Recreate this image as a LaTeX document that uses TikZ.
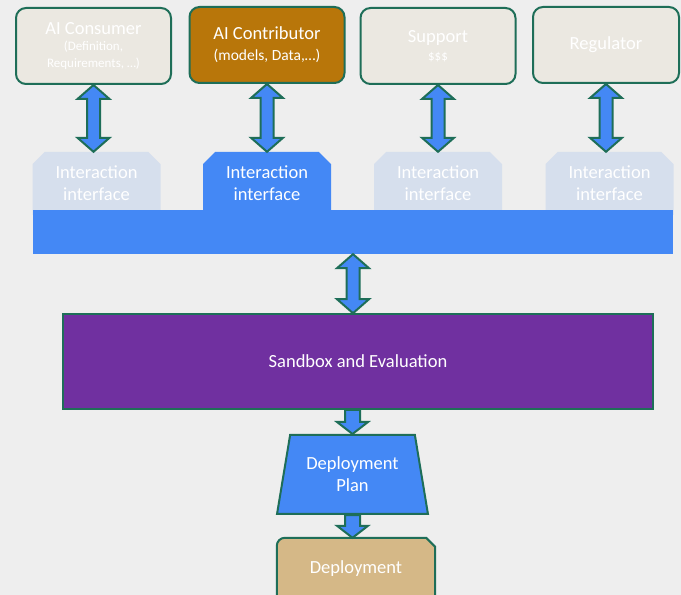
\documentclass[tikz,border=0pt]{standalone}
\usepackage{fontspec}
\setmainfont{Carlito}
\usetikzlibrary{shapes.geometric, shapes.misc, calc, backgrounds}
\definecolor{bggray}{RGB}{238,238,238}
\definecolor{edgegreen}{RGB}{30,110,88}
\definecolor{ifblue}{RGB}{68,136,245}
\definecolor{iflight}{RGB}{214,223,237}
\definecolor{actorbeige}{RGB}{235,232,225}
\definecolor{ochre}{RGB}{184,118,10}
\definecolor{sandpurple}{RGB}{112,48,160}
\definecolor{deptan}{RGB}{213,184,135}

% fat double arrow, tips at #1 (top) and #2 (bottom)
\newcommand{\dblarrow}[2]{%
  \draw[arrowline] let \p1=(#1), \p2=(#2) in
    (\x1,\y1) -- (\x1+16pt,\y1-14pt) -- (\x1+6.5pt,\y1-14pt) -- (\x1+6.5pt,\y2+14pt)
    -- (\x1+16pt,\y2+14pt) -- (\x1,\y2) -- (\x1-16pt,\y2+14pt) -- (\x1-6.5pt,\y2+14pt)
    -- (\x1-6.5pt,\y1-14pt) -- (\x1-16pt,\y1-14pt) -- cycle;}
% fat single arrow pointing down
\newcommand{\fatdown}[2]{%
  \draw[arrowline] let \p1=(#1), \p2=(#2) in
    (\x1-7.5pt,\y1) -- (\x1+7.5pt,\y1) -- (\x1+7.5pt,\y2+12pt) -- (\x1+15.5pt,\y2+12pt)
    -- (\x1,\y2) -- (\x1-15.5pt,\y2+12pt) -- (\x1-7.5pt,\y2+12pt) -- cycle;}

\begin{document}
\begin{tikzpicture}[x=1pt, y=1pt,
  actor/.style={rectangle, rounded corners=10pt, draw=edgegreen, line width=2pt, fill=actorbeige,
    text=white, minimum width=155pt, minimum height=76pt, align=center, font=\fontsize{18.5}{21}\selectfont},
  tabbox/.style={chamfered rectangle, chamfered rectangle corners={north west, north east},
    chamfered rectangle xsep=9pt, text=white, minimum width=128pt, minimum height=63pt,
    align=center, font=\fontsize{18.5}{22}\selectfont},
  arrowline/.style={draw=edgegreen, line width=2pt, fill=ifblue, line join=miter},
  bigfont/.style={font=\fontsize{18.5}{22}\selectfont}]
  \useasboundingbox (0,0) rectangle (681,595);
  \begin{scope}[on background layer]
    \fill[bggray] (0,0) rectangle (681,595);
  \end{scope}

  % stakeholders
  \node[actor] (cons) at (93.5,549) {AI Consumer\\[-5pt]
    {\fontsize{13}{15}\selectfont (Definition,}\\[-4pt]{\fontsize{13}{15}\selectfont Requirements, …)}};
  \node[actor, fill=ochre] (contrib) at (267,550) {AI Contributor\\[0pt]{\fontsize{15.5}{18}\selectfont (models, Data,…)}};
  \node[actor] (supp) at (438,549) {Support\\[-3pt]{\fontsize{13}{15}\selectfont \$\$\$}};
  \node[actor, minimum width=146pt] (reg) at (606,550) {Regulator};

  % interaction interfaces and bus
  \foreach \i/\x/\c in {1/96.5/iflight, 2/267/ifblue, 3/438/iflight, 4/609.5/iflight}
    \node[tabbox, fill=\c] (tab\i) at (\x,411.5) {Interaction\\interface};
  \node[fill=ifblue, minimum width=640pt, minimum height=44pt, inner sep=0pt] (bar) at (353,363) {};

  % evaluation and deployment
  \node[draw=edgegreen, line width=1.6pt, fill=sandpurple, text=white, minimum width=590pt,
    minimum height=95pt, bigfont] (sandbox) at (358,233.5) {Sandbox and Evaluation};
  \node[trapezium, trapezium angle=76, trapezium stretches=true, draw=edgegreen, line width=2pt,
    fill=ifblue, text=white, minimum width=151pt, minimum height=79pt, align=center, bigfont]
    (plan) at (352.5,120.5) {Deployment\\Plan};
  \node[minimum width=158pt, minimum height=62pt, text=white, bigfont] (dep) at (356,26) {Deployment};
  \begin{scope}[on background layer]
    \draw[draw=edgegreen, line width=2pt, fill=deptan]
      (dep.south west) -- ([yshift=-8pt]dep.north west) arc[start angle=180, end angle=90, radius=8pt]
      -- ([xshift=-9pt]dep.north east) -- ([yshift=-9pt]dep.north east) -- (dep.south east) -- cycle;
  \end{scope}

  % connectors
  \dblarrow{cons.south}{tab1.north}
  \dblarrow{contrib.south}{tab2.north}
  \dblarrow{supp.south}{tab3.north}
  \dblarrow{reg.south}{tab4.north}
  \dblarrow{bar.south}{sandbox.north}
  \fatdown{sandbox.south -| plan.north}{plan.north}
  \fatdown{plan.south}{dep.north -| plan.south}
\end{tikzpicture}
\end{document}
